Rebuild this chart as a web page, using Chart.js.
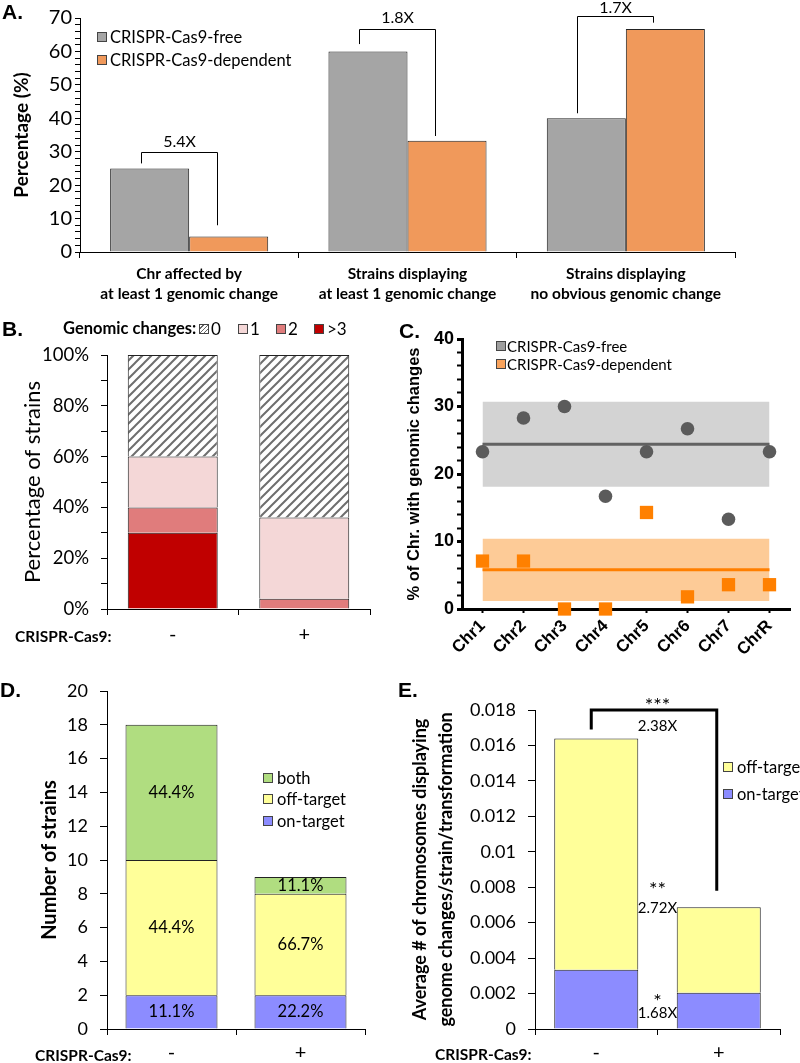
<!DOCTYPE html>
<html>
<head>
<meta charset="utf-8">
<script src="https://cdn.jsdelivr.net/npm/chart.js@4.4.0/dist/chart.umd.min.js"></script>
<style>
  body { margin: 0; background: #fff; }
  #page { position: relative; width: 800px; height: 1063px; overflow: hidden; font-family: Lato, sans-serif; color: #000; }
  canvas { position: absolute; }
  .t { position: absolute; white-space: nowrap; transform: translateY(-50%); line-height: 1; }
  .letter { font: bold 21px "Liberation Sans", Arial, sans-serif; }
  .crispr { font-weight: bold; font-size: 15.5px; }
  .sw { position: absolute; width: 8px; height: 8px; border: 1px solid #444; transform: translateY(-50%); }
</style>
</head>
<body>
<div id="page">
  <canvas id="chartA" width="800" height="318" style="left:0;top:0"></canvas>
  <canvas id="chartB" width="400" height="342" style="left:0;top:318px"></canvas>
  <canvas id="chartC" width="400" height="372" style="left:400px;top:318px"></canvas>
  <canvas id="chartD" width="400" height="401" style="left:0;top:662px"></canvas>
  <canvas id="chartE" width="400" height="401" style="left:400px;top:662px"></canvas>

  <div class="t letter" style="left:2px;top:12px">A.</div>
  <div class="t letter" style="left:2px;top:329px">B.</div>
  <div class="t letter" style="left:399px;top:331px">C.</div>
  <div class="t letter" style="left:0;top:690px">D.</div>
  <div class="t letter" style="left:398px;top:690px">E.</div>

  <!-- legend A -->
  <div class="sw" style="left:97px;top:37px;background:#A5A5A5"></div>
  <div class="t" style="left:110px;top:37px;font-size:16.5px">CRISPR-Cas9-free</div>
  <div class="sw" style="left:97px;top:60px;background:#F0995B"></div>
  <div class="t" style="left:110px;top:60px;font-size:16.5px">CRISPR-Cas9-dependent</div>

  <!-- legend B -->
  <div class="t" style="left:63px;top:328px;font-size:16.5px;font-weight:bold">Genomic changes:</div>
  <div class="sw" style="left:199px;top:329px;background:repeating-linear-gradient(135deg,#fff 0 2px,#666 2px 3px)"></div>
  <div class="t" style="left:211px;top:328px;font-size:17px">0</div>
  <div class="sw" style="left:238px;top:329px;background:#F4D7D7"></div>
  <div class="t" style="left:250px;top:328px;font-size:17px">1</div>
  <div class="sw" style="left:276px;top:329px;background:#E07C7C"></div>
  <div class="t" style="left:288px;top:328px;font-size:17px">2</div>
  <div class="sw" style="left:314px;top:329px;background:#C00000"></div>
  <div class="t" style="left:327px;top:328px;font-size:17px">&gt;3</div>

  <!-- legend C -->
  <div class="sw" style="left:496px;top:346px;background:#9E9E9E"></div>
  <div class="t" style="left:507px;top:346px;font-size:15px">CRISPR-Cas9-free</div>
  <div class="sw" style="left:496px;top:364px;background:#F9A35C"></div>
  <div class="t" style="left:507px;top:364px;font-size:15px">CRISPR-Cas9-dependent</div>

  <!-- legend D -->
  <div class="sw" style="left:263px;top:778px;background:#B0DD80"></div>
  <div class="t" style="left:277px;top:778px;font-size:16.5px">both</div>
  <div class="sw" style="left:263px;top:799px;background:#FFFF99"></div>
  <div class="t" style="left:277px;top:799px;font-size:16.5px">off-target</div>
  <div class="sw" style="left:263px;top:821px;background:#8C8CFF"></div>
  <div class="t" style="left:277px;top:821px;font-size:16.5px">on-target</div>

  <!-- legend E -->
  <div class="sw" style="left:723px;top:767px;background:#FFFF99"></div>
  <div class="t" style="left:737px;top:767px;font-size:16.5px">off-target</div>
  <div class="sw" style="left:723px;top:794px;background:#8C8CFF"></div>
  <div class="t" style="left:737px;top:794px;font-size:16.5px">on-target</div>

  <div class="t crispr" style="left:15px;top:637px">CRISPR-Cas9:</div>
  <div class="t crispr" style="left:35px;top:1056px">CRISPR-Cas9:</div>
  <div class="t crispr" style="left:435px;top:1055px">CRISPR-Cas9:</div>
</div>

<script>
// ---- data ----
const aCategories = [
  ['Chr affected by', 'at least 1 genomic change'],
  ['Strains displaying', 'at least 1 genomic change'],
  ['Strains displaying', 'no obvious genomic change']
];
const aFree = [25, 60, 40];
const aDependent = [4.6, 33.3, 66.7];
const aRatios = ['5.4X', '1.8X', '1.7X'];

const bGroups = ['-', '+'];
const bMoreThan3 = [30, 0];
const bTwo = [10, 4];
const bOne = [20, 32];
const bZero = [40, 64];

const chrLabels = ['Chr1', 'Chr2', 'Chr3', 'Chr4', 'Chr5', 'Chr6', 'Chr7', 'ChrR'];
const cFree = [23.3, 28.3, 30, 16.7, 23.3, 26.7, 13.3, 23.3];
const cDependent = [7.1, 7.1, 0, 0, 14.3, 1.8, 3.6, 3.6];
const cFreeMean = 24.4;
const cFreeRange = [18.1, 30.7];
const cDepMean = 5.8;
const cDepRange = [1.2, 10.4];

const dGroups = ['-', '+'];
const dOnTarget = [2, 2];
const dOffTarget = [8, 6];
const dBoth = [8, 1];

const eGroups = ['-', '+'];
const eOnTarget = [0.00335, 0.00205];
const eOffTarget = [0.01304, 0.00482];
const eSignif = ['***', '**', '*'];
const eRatios = ['2.38X', '2.72X', '1.68X'];

// where the bracket / note pieces sit, in axis units
const aBracketPos = [
  { top: 30, left: 26.5, right: 8, label: 32.9 },
  { top: 66.7, left: 62.2, right: 34.7, label: 69.9 },
  { top: 70.6, left: 41.5, right: 68.6, label: 72.9 }
];
const eNotePos = [[0.01845, 0.0171], [0.00807, 0.00683], [0.0018, 0.0009]];

Chart.defaults.font.family = 'Lato, sans-serif';
Chart.defaults.color = '#000';
Chart.defaults.animation = false;
Chart.defaults.plugins.legend.display = false;
Chart.defaults.plugins.tooltip.enabled = false;

const GRAY = '#A5A5A5';
const ORANGE = '#F0995B';
const EDGE = '#222';

function hatchPattern() {
  const c = document.createElement('canvas');
  c.width = 9; c.height = 9;
  const g = c.getContext('2d');
  g.fillStyle = '#fff';
  g.fillRect(0, 0, 9, 9);
  g.strokeStyle = '#6e6e6e';
  g.lineWidth = 2;
  g.beginPath();
  g.moveTo(0, 9); g.lineTo(9, 0);
  g.moveTo(-2, 2); g.lineTo(2, -2);
  g.moveTo(7, 11); g.lineTo(11, 7);
  g.stroke();
  return g.createPattern(c, 'repeat');
}

function axisGrid(len) {
  return { drawOnChartArea: false, color: '#000', tickLength: len };
}

// ---- A ----
const bracketPlugin = {
  id: 'brackets',
  afterDatasetsDraw(chart) {
    const { ctx, scales: { y } } = chart;
    const free = chart.getDatasetMeta(0).data;
    const dep = chart.getDatasetMeta(1).data;
    ctx.save();
    ctx.strokeStyle = '#000';
    ctx.lineWidth = 1;
    ctx.fillStyle = '#000';
    ctx.font = '16px Lato';
    ctx.textAlign = 'center';
    ctx.textBaseline = 'middle';
    aBracketPos.forEach((b, i) => {
      const x0 = Math.round(free[i].x - 9) + 0.5;
      const x1 = Math.round(dep[i].x - 12) + 0.5;
      const yt = Math.round(y.getPixelForValue(b.top)) + 0.5;
      ctx.beginPath();
      ctx.moveTo(x0, y.getPixelForValue(b.left));
      ctx.lineTo(x0, yt);
      ctx.lineTo(x1, yt);
      ctx.lineTo(x1, y.getPixelForValue(b.right));
      ctx.stroke();
      ctx.fillText(aRatios[i], (x0 + x1) / 2, y.getPixelForValue(b.label));
    });
    ctx.restore();
  }
};

new Chart(document.getElementById('chartA'), {
  type: 'bar',
  data: {
    labels: aCategories,
    datasets: [
      { data: aFree, backgroundColor: GRAY, borderColor: EDGE, borderWidth: 1, categoryPercentage: 0.724, barPercentage: 1 },
      { data: aDependent, backgroundColor: ORANGE, borderColor: EDGE, borderWidth: 1, categoryPercentage: 0.724, barPercentage: 1 }
    ]
  },
  options: {
    responsive: false,
    layout: { padding: { top: 18, right: 65, left: 0, bottom: 0 } },
    scales: {
      x: {
        grid: axisGrid(6),
        border: { color: '#000' },
        ticks: { font: { size: 15.5, weight: 'bold', lineHeight: 1.3 }, padding: 6, maxRotation: 0, autoSkip: false },
        afterFit: s => { s.height = 66; }
      },
      y: {
        min: 0, max: 70,
        ticks: { stepSize: 2, autoSkip: false, callback: v => (v % 10 === 0 ? v : ''), font: { size: 20 }, padding: 3 },
        grid: axisGrid(5),
        border: { color: '#000' },
        title: { display: true, text: 'Percentage (%)', font: { size: 19, weight: 'bold' }, padding: { top: 10, bottom: 0 } },
        afterFit: s => { s.width = 80; }
      }
    }
  },
  plugins: [bracketPlugin]
});

// ---- B ----
const hatch = hatchPattern();
const bSegments = [
  [bMoreThan3, '#C00000'],
  [bTwo, '#E07C7C'],
  [bOne, '#F4D7D7'],
  [bZero, hatch]
];
new Chart(document.getElementById('chartB'), {
  type: 'bar',
  data: {
    labels: bGroups,
    datasets: bSegments.map(([vals, col]) => ({
      data: vals, backgroundColor: col, borderColor: EDGE, borderWidth: 1,
      categoryPercentage: 0.684, barPercentage: 1
    }))
  },
  options: {
    responsive: false,
    layout: { padding: { top: 37, right: 30, left: 0, bottom: 0 } },
    scales: {
      x: {
        stacked: true,
        grid: axisGrid(6),
        border: { color: '#000' },
        ticks: { font: { size: 20 }, padding: 8, maxRotation: 0 },
        afterFit: s => { s.height = 51; }
      },
      y: {
        stacked: true, min: 0, max: 100,
        ticks: { stepSize: 10, autoSkip: false, callback: v => (v % 20 === 0 ? v + '%' : ''), font: { size: 18.5 }, padding: 12 },
        grid: axisGrid(6),
        border: { color: '#000' },
        title: { display: true, text: 'Percentage of strains', font: { size: 22 }, padding: { top: 20, bottom: 0 } },
        afterFit: s => { s.width = 107; }
      }
    }
  }
});

// ---- C ----
const C_FONT = '"Liberation Sans", Arial, sans-serif';
const ends = v => [{ x: chrLabels[0], y: v }, { x: chrLabels[chrLabels.length - 1], y: v }];
new Chart(document.getElementById('chartC'), {
  type: 'line',
  data: {
    labels: chrLabels,
    datasets: [
      { data: cFree, showLine: false, pointStyle: 'circle', pointRadius: 6.8, backgroundColor: '#5B5B5B', borderColor: '#5B5B5B', borderWidth: 0, clip: false },
      { data: cDependent, showLine: false, pointStyle: 'rect', pointRadius: 9.4, backgroundColor: '#FF8000', borderColor: '#FF8000', borderWidth: 0, clip: false },
      { data: ends(cFreeMean), borderColor: '#626262', borderWidth: 3, pointRadius: 0 },
      { data: ends(cDepMean), borderColor: '#FF7F00', borderWidth: 3, pointRadius: 0 },
      { data: ends(cFreeRange[1]), borderWidth: 0, pointRadius: 0, fill: '+1', backgroundColor: '#D3D3D3' },
      { data: ends(cFreeRange[0]), borderWidth: 0, pointRadius: 0 },
      { data: ends(cDepRange[1]), borderWidth: 0, pointRadius: 0, fill: '+1', backgroundColor: '#FDCB97' },
      { data: ends(cDepRange[0]), borderWidth: 0, pointRadius: 0 }
    ]
  },
  options: {
    responsive: false,
    layout: { padding: { top: 21, right: 10, left: 0, bottom: 0 } },
    scales: {
      x: {
        offset: true,
        grid: { drawOnChartArea: false, offset: false, color: '#000', tickLength: 4, tickWidth: 2 },
        border: { color: '#000', width: 3 },
        ticks: { font: { family: C_FONT, size: 17, weight: 'bold' }, minRotation: 45, maxRotation: 45, padding: 3, autoSkip: false },
        afterFit: s => { s.height = 81; }
      },
      y: {
        min: 0, max: 40,
        ticks: { stepSize: 2, autoSkip: false, callback: v => (v % 10 === 0 ? v : ''), font: { family: C_FONT, size: 18, weight: 'bold' }, padding: 3 },
        grid: { drawOnChartArea: false, color: '#000', tickLength: 5, tickWidth: c => (c.tick && c.tick.value % 10 === 0 ? 3 : 2) },
        border: { color: '#000', width: 3 },
        title: { display: true, text: '% of Chr. with genomic changes', font: { family: C_FONT, size: 16.5, weight: 'bold' }, padding: { top: 5, bottom: 0 } },
        afterFit: s => { s.width = 62; }
      }
    }
  }
});

// ---- D ----
const pctPlugin = {
  id: 'pct',
  afterDatasetsDraw(chart) {
    const ctx = chart.ctx;
    const sets = chart.data.datasets;
    ctx.save();
    ctx.font = '16.5px Lato';
    ctx.fillStyle = '#000';
    ctx.textAlign = 'center';
    ctx.textBaseline = 'middle';
    sets.forEach((ds, di) => {
      chart.getDatasetMeta(di).data.forEach((bar, i) => {
        const total = sets.reduce((s, d) => s + d.data[i], 0);
        ctx.fillText((ds.data[i] / total * 100).toFixed(1) + '%', bar.x, (bar.y + bar.base) / 2);
      });
    });
    ctx.restore();
  }
};
const dSegments = [[dOnTarget, '#8C8CFF'], [dOffTarget, '#FFFF99'], [dBoth, '#B0DD80']];
new Chart(document.getElementById('chartD'), {
  type: 'bar',
  data: {
    labels: dGroups,
    datasets: dSegments.map(([vals, col]) => ({
      data: vals, backgroundColor: col, borderColor: EDGE, borderWidth: 1,
      categoryPercentage: 0.713, barPercentage: 1
    }))
  },
  options: {
    responsive: false,
    layout: { padding: { top: 29, right: 35, left: 0, bottom: 0 } },
    scales: {
      x: {
        stacked: true,
        grid: axisGrid(6),
        border: { color: '#000' },
        ticks: { font: { size: 20 }, padding: 6, maxRotation: 0 },
        afterFit: s => { s.height = 34; }
      },
      y: {
        stacked: true, min: 0, max: 20,
        ticks: { stepSize: 2, autoSkip: false, font: { size: 18 }, padding: 12 },
        grid: axisGrid(7),
        border: { color: '#000' },
        title: { display: true, text: 'Number of strains', font: { size: 20, weight: 'bold' }, padding: { top: 38, bottom: 0 } },
        afterFit: s => { s.width = 107; }
      }
    }
  },
  plugins: [pctPlugin]
});

// ---- E ----
const notePlugin = {
  id: 'notes',
  afterDatasetsDraw(chart) {
    const { ctx, scales: { y } } = chart;
    const bars = chart.getDatasetMeta(1).data;
    const x0 = bars[0].x - 5, x1 = bars[1].x - 2;
    const mid = (bars[0].x + bars[1].x) / 2;
    const top = y.getPixelForValue(0.018);
    ctx.save();
    ctx.strokeStyle = '#000';
    ctx.lineWidth = 3;
    ctx.beginPath();
    ctx.moveTo(x0, y.getPixelForValue(0.0169));
    ctx.lineTo(x0, top);
    ctx.lineTo(x1, top);
    ctx.lineTo(x1, y.getPixelForValue(0.0078));
    ctx.stroke();
    ctx.fillStyle = '#000';
    ctx.textAlign = 'center';
    ctx.textBaseline = 'middle';
    eNotePos.forEach(([ys, yr], i) => {
      ctx.font = '20px Lato';
      ctx.fillText(eSignif[i], mid, y.getPixelForValue(ys) + 4);
      ctx.font = '15px Lato';
      ctx.fillText(eRatios[i], mid, y.getPixelForValue(yr));
    });
    ctx.restore();
  }
};
new Chart(document.getElementById('chartE'), {
  type: 'bar',
  data: {
    labels: eGroups,
    datasets: [
      { data: eOnTarget, backgroundColor: '#8C8CFF', borderColor: EDGE, borderWidth: 1, categoryPercentage: 0.686, barPercentage: 1 },
      { data: eOffTarget, backgroundColor: '#FFFF99', borderColor: EDGE, borderWidth: 1, categoryPercentage: 0.686, barPercentage: 1 }
    ]
  },
  options: {
    responsive: false,
    layout: { padding: { top: 48, right: 20, left: 0, bottom: 0 } },
    scales: {
      x: {
        stacked: true,
        grid: axisGrid(6),
        border: { color: '#000' },
        ticks: { font: { size: 20 }, padding: 6, maxRotation: 0 },
        afterFit: s => { s.height = 34; }
      },
      y: {
        stacked: true, min: 0, max: 0.018,
        ticks: { stepSize: 0.002, autoSkip: false, callback: v => String(parseFloat(v.toFixed(3))), font: { size: 18 }, padding: 12 },
        grid: axisGrid(7),
        border: { color: '#000' },
        title: {
          display: true,
          text: ['Average # of chromosomes displaying', 'genome changes/strain/transformation'],
          font: { size: 18, weight: 'bold', lineHeight: 1.4 }, padding: { top: 8, bottom: 0 }
        },
        afterFit: s => { s.width = 135; }
      }
    }
  },
  plugins: [notePlugin]
});
</script>
</body>
</html>
